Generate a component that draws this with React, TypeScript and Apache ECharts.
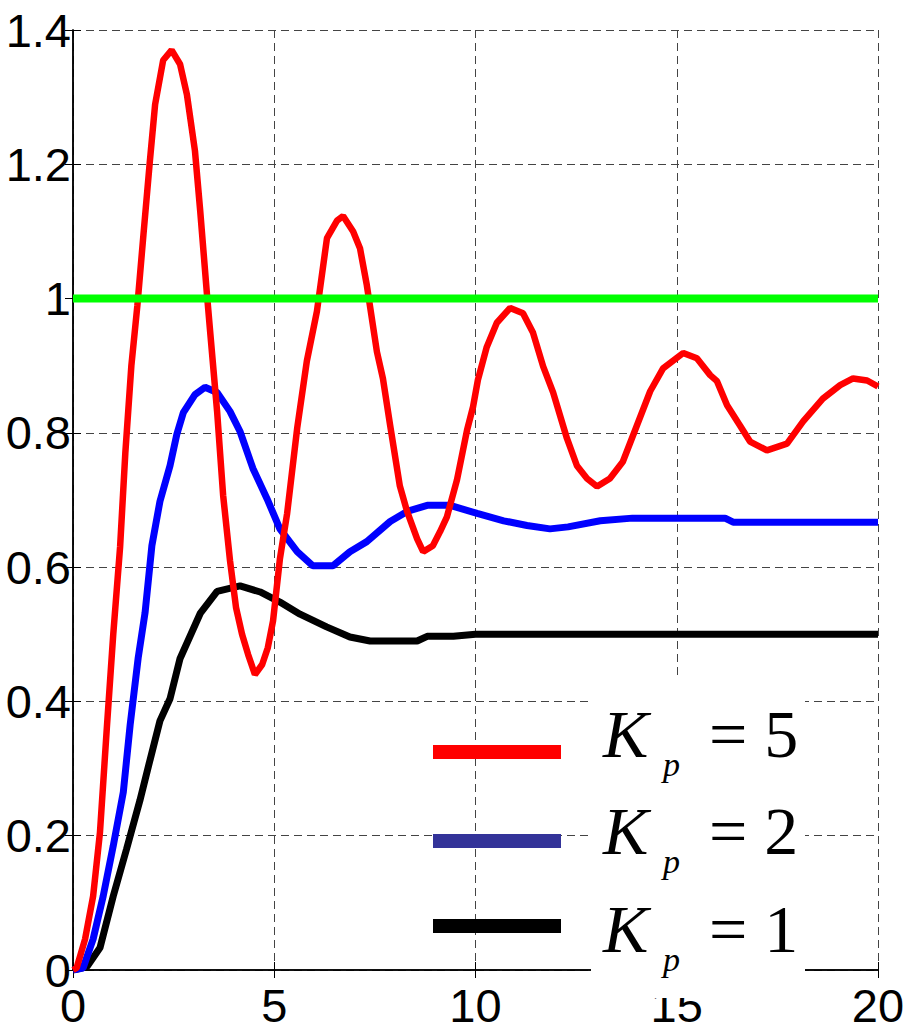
import React, { useEffect, useRef } from "react";
import * as echarts from "echarts";

// time axis ticks
const xTicks = [0, 5, 10, 15, 20];
const yTicks = [0, 0.2, 0.4, 0.6, 0.8, 1, 1.2, 1.4];

// Kp = 5 (red)
const kp5T = [0, 0.09, 0.3, 0.5, 0.67, 0.84, 1.0, 1.17, 1.3, 1.45, 1.6, 1.75, 1.91, 2.04, 2.24, 2.45, 2.66, 2.83, 3.03, 3.16, 3.33, 3.4, 3.58, 3.73, 3.9, 4.05, 4.2, 4.35, 4.52, 4.7, 4.84, 4.97, 5.14, 5.32, 5.57, 5.81, 6.06, 6.31, 6.56, 6.71, 6.96, 7.13, 7.3, 7.55, 7.7, 7.88, 8.12, 8.3, 8.55, 8.7, 8.94, 9.12, 9.29, 9.54, 9.79, 9.94, 10.06, 10.28, 10.53, 10.86, 11.18, 11.43, 11.68, 11.93, 12.27, 12.52, 12.77, 13.02, 13.34, 13.66, 14.01, 14.34, 14.66, 15.16, 15.5, 15.83, 16.0, 16.25, 16.57, 16.82, 17.24, 17.74, 18.14, 18.63, 19.06, 19.38, 19.73, 20];
const kp5Y = [0, 0.003, 0.046, 0.11, 0.205, 0.36, 0.5, 0.63, 0.77, 0.9, 0.99, 1.095, 1.205, 1.289, 1.355, 1.37, 1.349, 1.304, 1.22, 1.131, 1.005, 0.956, 0.832, 0.707, 0.61, 0.54, 0.5, 0.47, 0.44, 0.455, 0.48, 0.52, 0.612, 0.68, 0.807, 0.907, 0.981, 1.09, 1.116, 1.123, 1.1, 1.075, 1.02, 0.921, 0.881, 0.811, 0.721, 0.683, 0.642, 0.623, 0.632, 0.653, 0.675, 0.73, 0.804, 0.839, 0.879, 0.928, 0.964, 0.986, 0.978, 0.949, 0.899, 0.86, 0.792, 0.751, 0.732, 0.72, 0.732, 0.757, 0.811, 0.862, 0.896, 0.919, 0.911, 0.886, 0.877, 0.841, 0.811, 0.787, 0.774, 0.784, 0.817, 0.851, 0.871, 0.881, 0.878, 0.869];

// Kp = 2 (blue)
const kp2T = [0, 0.25, 0.5, 0.75, 1.0, 1.25, 1.42, 1.62, 1.79, 1.96, 2.16, 2.41, 2.58, 2.74, 3.03, 3.28, 3.58, 3.9, 4.15, 4.47, 4.82, 5.14, 5.57, 5.96, 6.46, 6.88, 7.3, 7.88, 8.3, 8.8, 9.37, 10.04, 10.7, 11.28, 11.85, 12.3, 13.1, 13.9, 16.2, 16.4, 20];
const kp2Y = [0, 0.003, 0.046, 0.11, 0.185, 0.265, 0.365, 0.465, 0.532, 0.632, 0.698, 0.751, 0.798, 0.83, 0.857, 0.868, 0.86, 0.832, 0.802, 0.747, 0.702, 0.657, 0.623, 0.602, 0.602, 0.623, 0.638, 0.668, 0.683, 0.692, 0.692, 0.68, 0.669, 0.662, 0.657, 0.66, 0.669, 0.673, 0.673, 0.667, 0.667];

// Kp = 1 (black)
const kp1T = [0, 0.35, 0.67, 1.0, 1.33, 1.66, 1.91, 2.16, 2.41, 2.66, 3.16, 3.58, 4.15, 4.65, 5.14, 5.64, 6.3, 6.88, 7.38, 8.55, 8.8, 9.45, 10.0, 20];
const kp1Y = [0, 0.005, 0.033, 0.11, 0.18, 0.252, 0.312, 0.371, 0.404, 0.464, 0.531, 0.564, 0.572, 0.563, 0.548, 0.53, 0.511, 0.496, 0.49, 0.49, 0.497, 0.497, 0.5, 0.5];

// reference (setpoint)
const refT = [0, 20];
const refY = [1, 1];

const legendLabels = ["5", "2", "1"];
const legendColors = ["#ff0000", "#333399", "#000000"];

const zip = (a: number[], b: number[]) => a.map((v, i) => [v, b[i]]);

const labelFont = '"Liberation Sans", Arial, Helvetica, sans-serif';
const serif = '"Liberation Serif", "Times New Roman", serif';

export default function App() {
  const ref = useRef<HTMLDivElement>(null);
  useEffect(() => {
    document.body.style.margin = "0";
    if (!ref.current) return;
    const chart = echarts.init(ref.current, null, { renderer: "svg" });

    const rowBase = [757, 854, 952];
    const sampleY = [752, 841, 926];
    const graphic: any[] = [
      { type: "rect", z: 100, shape: { x: 591, y: 678, width: 214, height: 320 }, style: { fill: "#fff" } },
    ];
    legendLabels.forEach((lab, i) => {
      graphic.push({ type: "rect", z: 101, shape: { x: 433, y: sampleY[i] - 7, width: 128, height: 14 }, style: { fill: legendColors[i] } });
      graphic.push({ type: "text", z: 102, x: 603, y: rowBase[i] - 23, style: { text: "K", font: `italic 68px ${serif}`, fill: "#000", verticalAlign: "middle", align: "left" } });
      graphic.push({ type: "text", z: 102, x: 663, y: rowBase[i] + 19 - 11.5, style: { text: "p", font: `italic 34px ${serif}`, fill: "#000", verticalAlign: "middle", align: "left" } });
      graphic.push({ type: "text", z: 102, x: 709, y: rowBase[i] - 23, style: { text: "= " + lab, font: `68px ${serif}`, fill: "#000", verticalAlign: "middle", align: "left" } });
    });

    const axisCommon = {
      type: "value" as const,
      axisLine: { show: true, lineStyle: { color: "#000", width: 1.5 } },
      axisTick: { show: true, inside: true, length: 8, lineStyle: { color: "#000", width: 1 } },
    };

    chart.setOption({
      animation: false,
      backgroundColor: "#fff",
      grid: { left: 73, right: 32, top: 30, bottom: 61, containLabel: false },
      xAxis: [
        {
          ...axisCommon,
          min: xTicks[0],
          max: xTicks[xTicks.length - 1],
          interval: 5,
          position: "bottom",
          axisLabel: { fontFamily: labelFont, fontSize: 47, lineHeight: 47, color: "#000", margin: 12, showMaxLabel: true, showMinLabel: true },
          splitLine: { show: true, lineStyle: { color: "#444", width: 1, type: [8, 5] } },
        },
        {
          ...axisCommon,
          min: xTicks[0],
          max: xTicks[xTicks.length - 1],
          interval: 5,
          position: "top",
          axisLabel: { show: false },
          splitLine: { show: false },
        },
      ],
      yAxis: [
        {
          ...axisCommon,
          min: yTicks[0],
          max: yTicks[yTicks.length - 1],
          interval: 0.2,
          position: "left",
          axisLabel: {
            fontFamily: labelFont, fontSize: 47, lineHeight: 47, color: "#000", margin: 2,
            formatter: (v: number) => String(+v.toFixed(1)),
          },
          splitLine: { show: true, lineStyle: { color: "#444", width: 1, type: [8, 5] } },
        },
        {
          ...axisCommon,
          min: yTicks[0],
          max: yTicks[yTicks.length - 1],
          interval: 0.2,
          position: "right",
          axisLabel: { show: false },
          splitLine: { show: false },
        },
      ],
      series: [
        { name: "Kp=1", type: "line", data: zip(kp1T, kp1Y), showSymbol: false, symbol: "none", lineStyle: { color: "#000", width: 7 }, itemStyle: { color: "#000" }, z: 3 },
        { name: "Kp=2", type: "line", data: zip(kp2T, kp2Y), showSymbol: false, symbol: "none", lineStyle: { color: "#0000ff", width: 7 }, itemStyle: { color: "#0000ff" }, z: 4 },
        { name: "Kp=5", type: "line", data: zip(kp5T, kp5Y), showSymbol: false, symbol: "none", lineStyle: { color: "#ff0000", width: 6.5 }, itemStyle: { color: "#ff0000" }, z: 5 },
        { name: "ref", type: "line", data: zip(refT, refY), showSymbol: false, symbol: "none", lineStyle: { color: "#00ff00", width: 8 }, itemStyle: { color: "#00ff00" }, z: 6 },
      ],
      graphic,
    });
    return () => chart.dispose();
  }, []);
  return <div ref={ref} style={{ width: 910, height: 1031 }} />;
}
